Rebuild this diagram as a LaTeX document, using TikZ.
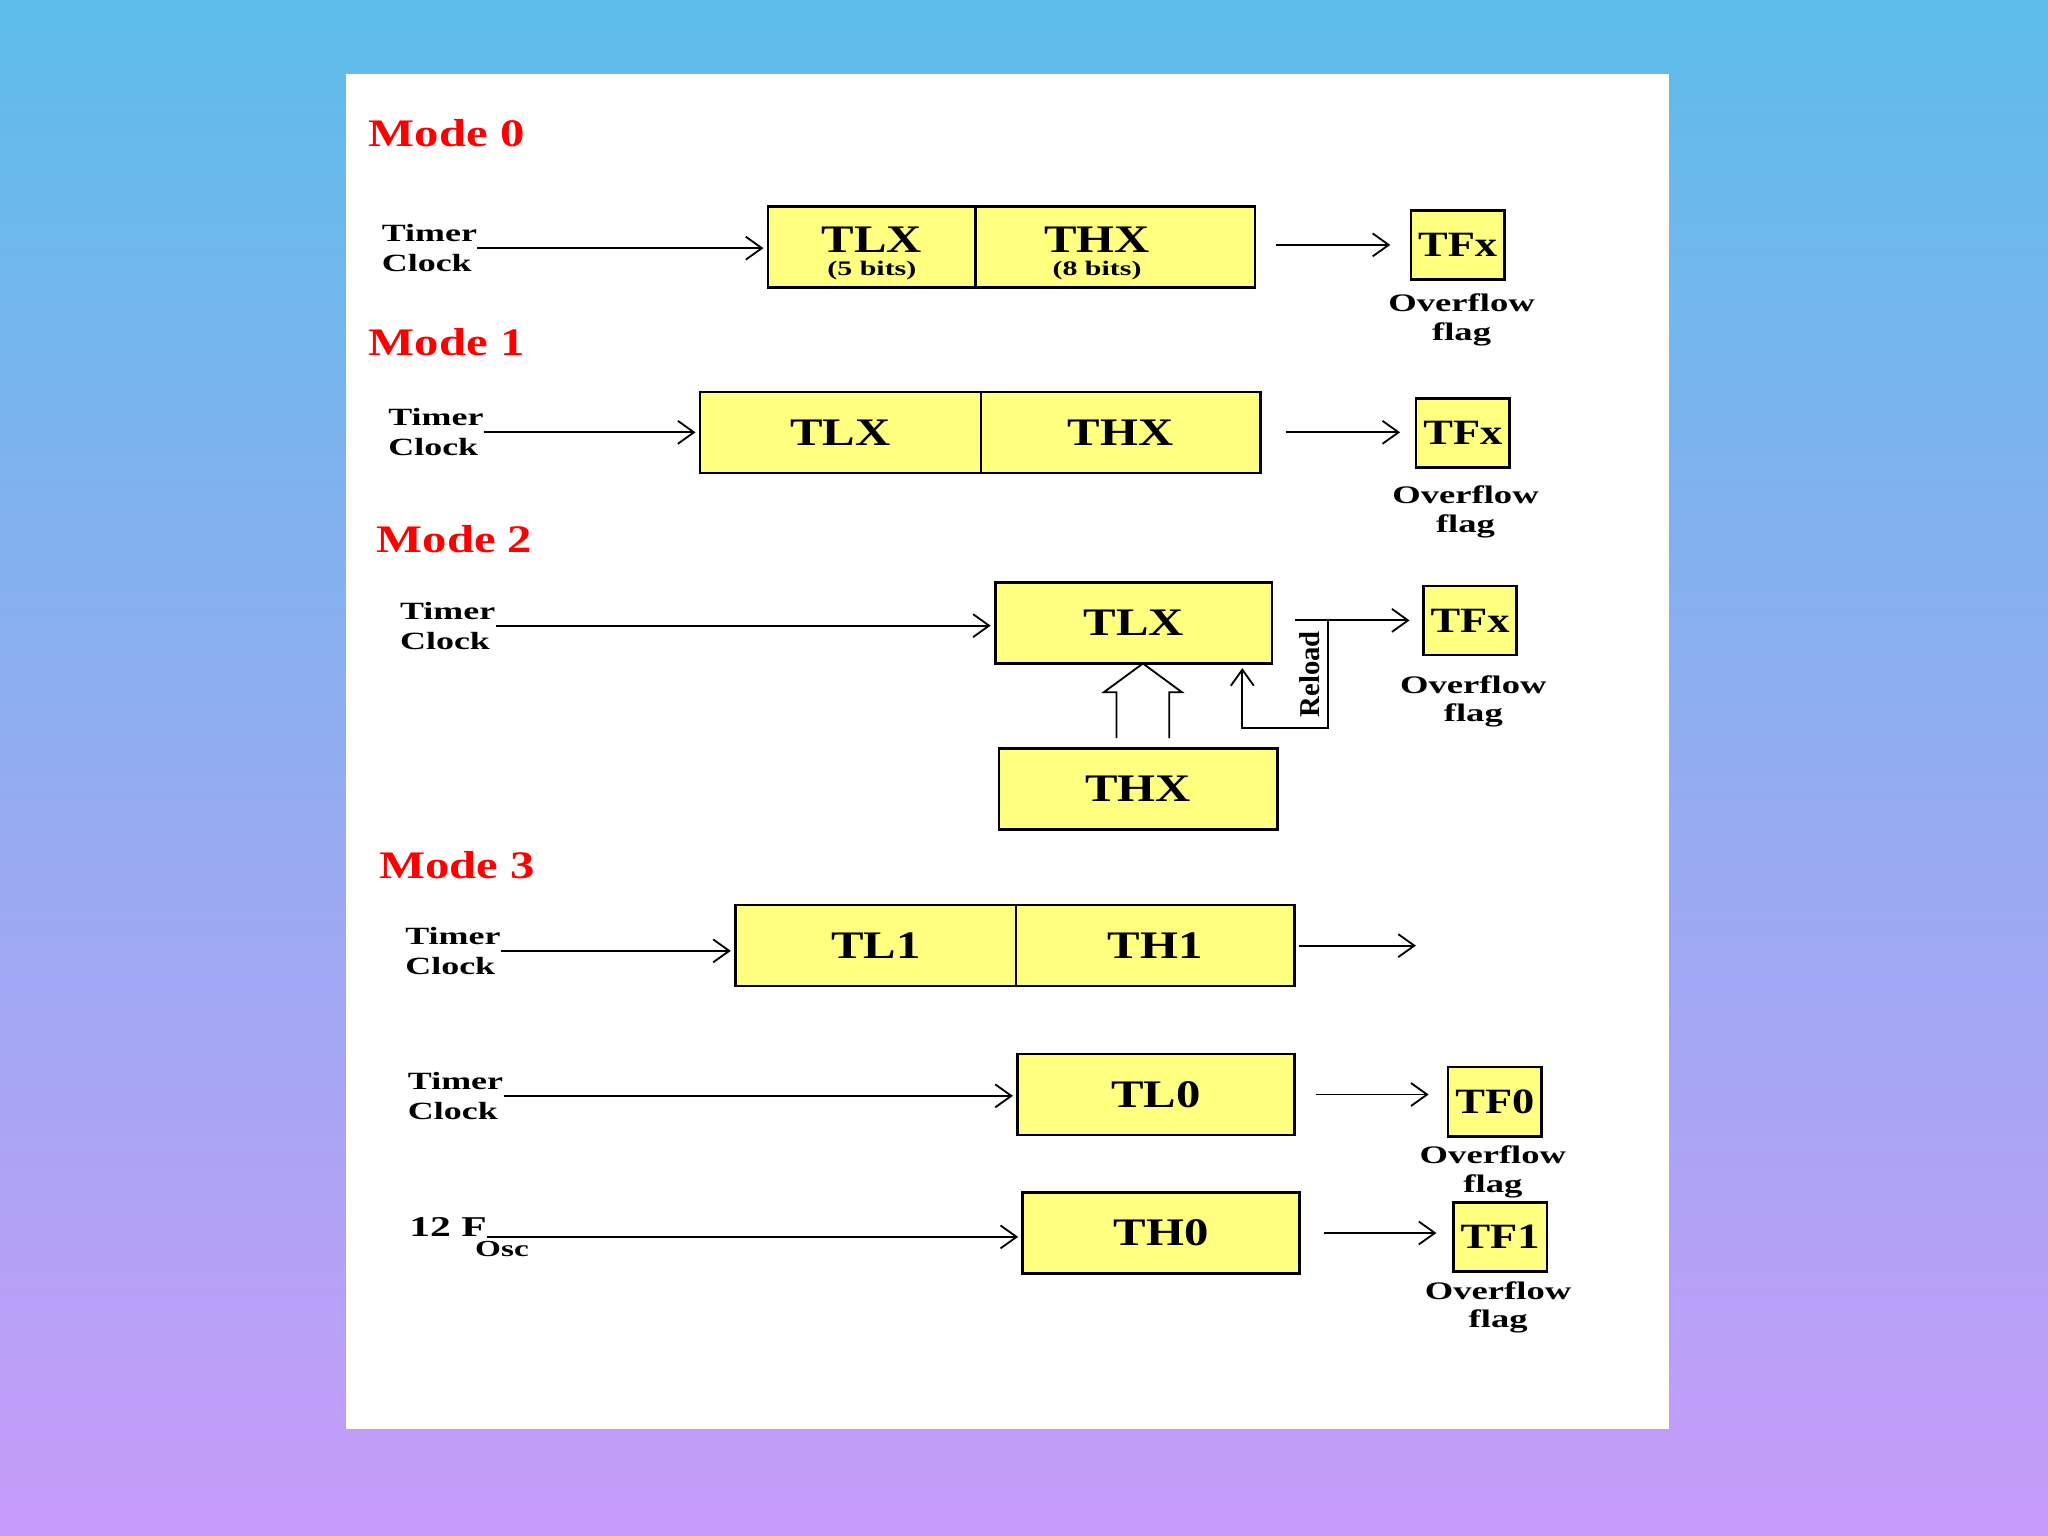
\documentclass[tikz,border=0pt]{standalone}
\usepackage{fontspec}
\setmainfont{Liberation Serif}
\newfontfamily\wide[FakeStretch=1.25]{Liberation Serif}
\newfontfamily\wider[FakeStretch=1.45]{Liberation Serif}
\usetikzlibrary{arrows.meta,positioning}

\definecolor{bgtop}{RGB}{93,189,234}
\definecolor{bgbottom}{RGB}{199,155,249}
\definecolor{regfill}{RGB}{255,255,128}
\definecolor{modered}{RGB}{255,0,0}

\begin{document}
\begin{tikzpicture}[
        x=0.02cm, y=-0.02cm,
        >={Straight Barb[length=7pt,width=10pt]},
        modelabel/.style={anchor=west, inner sep=0pt, text=modered, font=\wide\bfseries\fontsize{17}{20}\selectfont},
        clock/.style={anchor=west, inner sep=0pt, align=left, font=\wider\bfseries\fontsize{10.8}{13}\selectfont},
        reg/.style={draw=black, fill=regfill, line width=1.1pt, outer sep=0pt, minimum height=1.24cm, inner sep=0pt, align=center, font=\wide\bfseries\fontsize{17}{20}\selectfont},
        flag/.style={draw=black, fill=regfill, line width=1.1pt, outer sep=0pt, minimum width=1.43cm, minimum height=1.06cm, inner sep=0pt, font=\wide\bfseries\fontsize{15.5}{18}\selectfont},
        ovf/.style={inner sep=0pt, align=center, font=\wider\bfseries\fontsize{11}{12.5}\selectfont},
        link/.style={draw=black, line width=0.8pt, ->},
        hollow/.style={draw=black, line width=0.8pt, line join=miter}
    ]
        \shade[top color=bgtop, bottom color=bgbottom] (0,0) rectangle (1568,1176);
        \fill[white] (265,57) rectangle (1278,1094);

        % Mode 0
        \node[modelabel] (mode0) at (282,102) {Mode 0};
        \node[clock] (clk0) at (292,190) {Timer\\Clock};
        \node[reg, minimum width=3.18cm] (tlx0) at (667.5,189) {\rule{0pt}{17pt}TLX\\[-10pt]{\wider\fontsize{9}{9}\selectfont (5 bits)}};
        \node[reg, minimum width=4.28cm, right=0pt of tlx0] (thx0) {\rule{0pt}{17pt}THX\hspace*{16pt}\\[-10pt]{\wider\fontsize{9}{9}\selectfont (8 bits)}\hspace*{16pt}};
        \node[flag] (tfx0) at (1116,187.5) {TFx};
        \node[ovf] (ovf0) at (1119,245) {Overflow\\flag};

        \draw[link, shorten >=2pt] (clk0.east) -- (clk0.east -| tlx0.west);
        \draw[link, shorten <=9pt, shorten >=9pt] (thx0.east |- tfx0.west) -- (tfx0.west);

        % Mode 1
        \node[modelabel] (mode1) at (282,262) {Mode 1};
        \node[clock] (clk1) at (297,331) {Timer\\Clock};
        \node[reg, minimum width=4.3cm] (tlx1) at (643.5,331) {TLX};
        \node[reg, minimum width=4.28cm, right=0pt of tlx1] (thx1) {THX};
        \node[flag] (tfx1) at (1120,331.5) {TFx};
        \node[ovf] (ovf1) at (1122,392) {Overflow\\flag};

        \draw[link, shorten >=2pt] (clk1.east) -- (clk1.east -| tlx1.west);
        \draw[link, shorten <=11pt, shorten >=7pt] (thx1.east) -- (thx1.east -| tfx1.west);

        % Mode 2
        \node[modelabel] (mode2) at (288,413) {Mode 2};
        \node[clock] (clk2) at (306,479) {Timer\\Clock};
        \node[reg, minimum width=4.24cm] (tlx2) at (868,477) {TLX};
        \node[reg, minimum width=4.26cm] (thx2) at (871.5,604) {THX};
        \node[flag] (tfx2) at (1125.5,475) {TFx};
        \node[ovf] (ovf2) at (1128,537) {Overflow\\flag};

        \draw[link, shorten >=2pt] (clk2.east) -- (clk2.east -| tlx2.west);
        \draw[link, shorten <=10pt, shorten >=6pt] (tlx2.east |- tfx2.west) -- (tfx2.west);
        \coordinate (reload) at ([xshift=24.5pt]tlx2.east |- tfx2.west);
        \draw[link] (reload) -- node[midway, rotate=90, anchor=south, inner sep=3.5pt, font=\bfseries\fontsize{12.5}{14}\selectfont] {Reload} ++(0,-47pt) -| ([xshift=-13pt,yshift=-2pt]tlx2.south east);
        \coordinate (tip) at ([xshift=4pt]tlx2.south);
        \draw[hollow] (tip) ++(-11.5pt,-32.5pt) -- ++(0,20pt) -- ++(-5.5pt,0) -- (tip) -- ++(17pt,-12.5pt) -- ++(-5.5pt,0) -- ++(0,-20pt);

        % Mode 3
        \node[modelabel] (mode3) at (290,662) {Mode 3};
        \node[clock] (clk3a) at (310,728) {Timer\\Clock};
        \node[reg, minimum width=4.3cm] (tl1) at (670.5,724) {TL1};
        \node[reg, minimum width=4.26cm, right=0pt of tl1] (th1) {TH1};
        \coordinate (th1out) at ([xshift=53pt]th1.east);

        \node[clock] (clk3b) at (312,839) {Timer\\Clock};
        \node[reg, minimum width=4.24cm] (tl0) at (885,838) {TL0};
        \node[flag] (tf0) at (1144.5,843.5) {TF0};
        \node[ovf] (ovf3a) at (1143,897) {Overflow\\flag};

        \node[clock, font=\wider\bfseries\fontsize{12.5}{14}\selectfont] (osc) at (313,947) {12 F\rlap{\kern-5pt\raisebox{-8.5pt}{\fontsize{10}{10}\selectfont Osc}}};
        \node[reg, minimum width=4.24cm] (th0) at (889,944) {TH0};
        \node[flag] (tf1) at (1148.5,947) {TF1};
        \node[ovf] (ovf3b) at (1147,1001) {Overflow\\flag};

        \draw[link, shorten >=2pt] (clk3a.east) -- (clk3a.east -| tl1.west);
        \draw[link, shorten <=2pt] (th1.east) -- (th1out);
        \draw[link, shorten >=2pt] (clk3b.east) -- (clk3b.east -| tl0.west);
        \draw[link, shorten <=9.5pt, shorten >=8.5pt] (tl0.east) -- (tl0.east -| tf0.west);
        \draw[link, shorten >=2pt] (osc.east) -- (osc.east -| th0.west);
        \draw[link, shorten <=10.8pt, shorten >=7.4pt] (th0.east) -- (th0.east -| tf1.west);
    \end{tikzpicture}
\end{document}
